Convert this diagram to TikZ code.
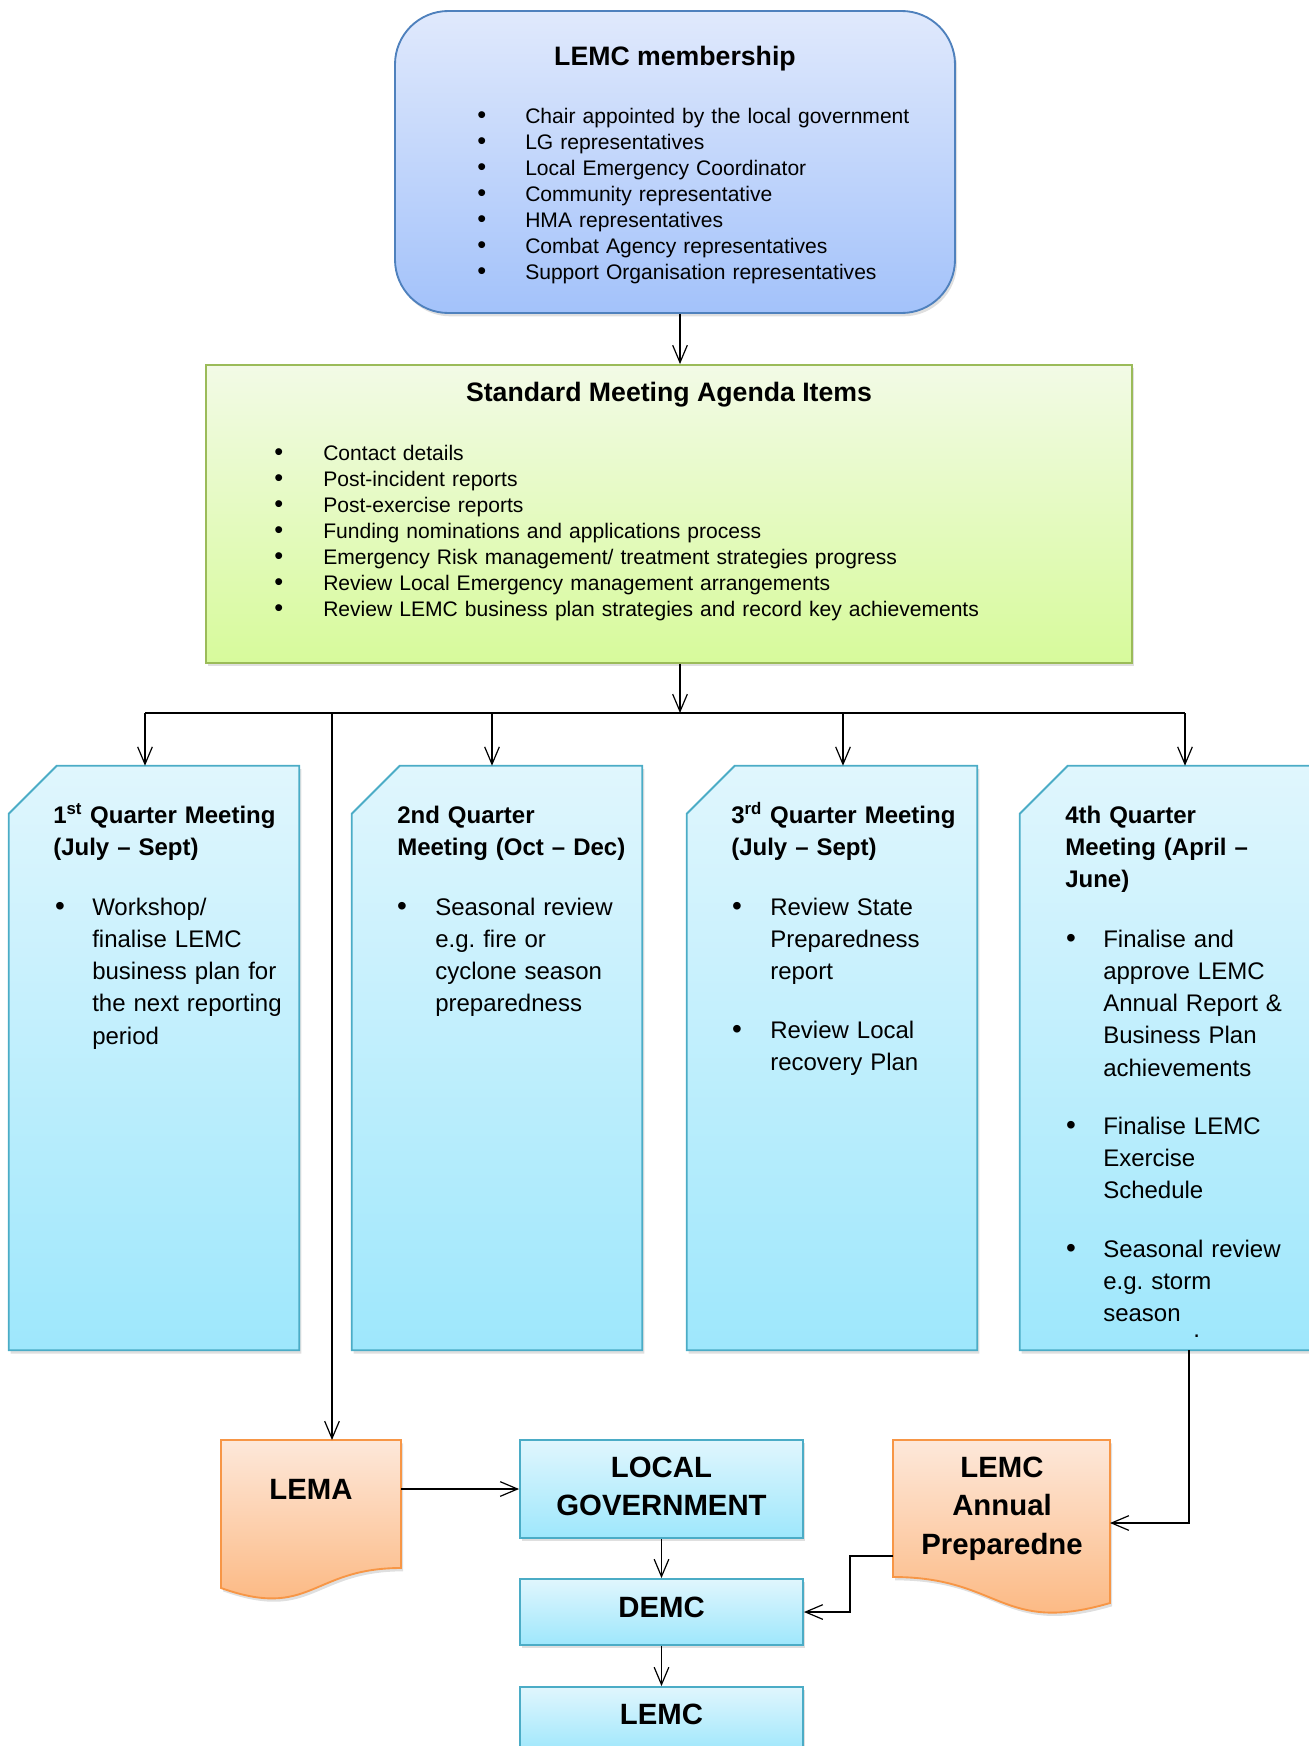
\documentclass[tikz,border=0pt]{standalone}
\usepackage{fontspec}
\setmainfont{Liberation Sans}
\usetikzlibrary{arrows.meta,shadows}

\definecolor{membtop}{RGB}{224,233,252}
\definecolor{membbot}{RGB}{163,194,250}
\definecolor{membline}{RGB}{79,129,189}
\definecolor{agtop}{RGB}{242,250,230}
\definecolor{agbot}{RGB}{215,250,155}
\definecolor{agline}{RGB}{155,187,89}
\definecolor{qtop}{RGB}{224,246,253}
\definecolor{qbot}{RGB}{158,231,252}
\definecolor{qline}{RGB}{75,172,198}
\definecolor{doctop}{RGB}{253,232,218}
\definecolor{docbot}{RGB}{252,180,122}
\definecolor{docline}{RGB}{247,150,70}

\frenchspacing
\begin{document}
\begin{tikzpicture}[x=0.75pt,y=0.75pt,yscale=-1,xscale=1,
  arr/.style={-{Straight Barb[length=13pt,width=11pt]},line width=0.9pt},
  bus/.style={line width=1.6pt},
  boxshadow/.style={drop shadow={opacity=0.25,shadow xshift=1.5pt,shadow yshift=-2.5pt}},
  membbox/.style={rectangle,rounded corners=40pt,draw=membline,line width=1.4pt,top color=membtop,bottom color=membbot,boxshadow,inner sep=0pt,minimum width=420pt,minimum height=226.5pt},
  agbox/.style={rectangle,draw=agline,line width=1.4pt,top color=agtop,bottom color=agbot,boxshadow,inner sep=0pt,minimum width=694.5pt,minimum height=223.5pt},
  qbox/.style={rectangle,inner sep=0pt,minimum width=217.5pt,minimum height=438pt},
  qshape/.style={draw=qline,line width=1.4pt,top color=qtop,bottom color=qbot,boxshadow},
  cybox/.style={rectangle,draw=qline,line width=1.4pt,top color=qtop,bottom color=qbot,boxshadow,inner sep=0pt,minimum width=212.25pt},
  docbox/.style={draw=docline,line width=1.4pt,top color=doctop,bottom color=docbot,boxshadow},
  ttl/.style={anchor=base,inner sep=0pt,font=\bfseries\fontsize{20}{24}\selectfont},
  lst/.style={anchor=base west,inner sep=0pt,text width=560pt,align=left,font=\fontsize{15.8}{19.5}\selectfont},
  lstdots/.style={lst,text width=14pt,font=\fontsize{19}{19.5}\selectfont},
  qttl/.style={anchor=base west,inner sep=0pt,text width=220pt,align=left,font=\bfseries\fontsize{18}{24.2}\selectfont},
  qtxt/.style={anchor=base west,inner sep=0pt,text width=200pt,align=left,font=\fontsize{18}{24.2}\selectfont},
  qdot/.style={anchor=base,inner sep=0pt,font=\fontsize{21}{24.2}\selectfont},
  bigtxt/.style={anchor=base,inner sep=0pt,text width=200pt,align=center,font=\bfseries\fontsize{22}{29.2}\selectfont}]
\useasboundingbox (0,0) rectangle (1309,1746);

%Shape: Rounded Rect [membership]
\node[membbox] (memb) at (675,162) {};
%Shape: Rectangle [agenda]
\node[agbox] (agenda) at (669,514) {};
%Shape: Snip corner [quarters]
\node[qbox] (q1) at (154,1058) {};
\node[qbox] (q2) at (497,1058) {};
\node[qbox] (q3) at (832,1058) {};
\node[qbox] (q4) at (1165,1058) {};
\draw[qshape] (q1.north west) ++(0,48) -- ++(48,-48) -- (q1.north east) -- (q1.south east) -- (q1.south west) -- cycle ;
\draw[qshape] (q2.north west) ++(0,48) -- ++(48,-48) -- (q2.north east) -- (q2.south east) -- (q2.south west) -- cycle ;
\draw[qshape] (q3.north west) ++(0,48) -- ++(48,-48) -- (q3.north east) -- (q3.south east) -- (q3.south west) -- cycle ;
\draw[qshape] (q4.north west) ++(0,48) -- ++(48,-48) -- (q4.north east) -- (q4.south east) -- (q4.south west) -- cycle ;
%Shape: Document [LEMA]
\draw[docbox] (221,1440) -- (401,1440) -- (401,1568) .. controls (311,1568) and (311,1620) .. (221,1588) -- cycle ;
%Shape: Document [annual]
\draw[docbox] (893,1440) -- (1110,1440) -- (1110,1603) .. controls (1001,1635) and (1001,1577) .. (893,1577) -- cycle ;
%Shape: Rectangle [bodies]
\node[cybox,minimum height=73.5pt] (lgov) at (661.5,1489) {};
\node[cybox,minimum height=49.5pt] (demc) at (661.5,1612) {};
\node[cybox,minimum height=49.5pt] (lemc) at (661.5,1720) {};

% connector points
\coordinate (spine) at (680,0);
\coordinate (tap1) at (145,713);
\coordinate (tapL) at (332,713);
\coordinate (tap2) at (492,713);
\coordinate (tap3) at (843,713);
\coordinate (tap4) at (1185,713);
\coordinate (lemaN) at (332,1440);
\coordinate (lemaE) at (401,1489);
\coordinate (apW) at (893,1556);
\coordinate (apE) at (1110,1523);
\coordinate (q4out) at (1189,1350);

\draw[arr] (memb.south -| spine) -- (agenda.north -| spine);
\draw[arr] (agenda.south -| spine) -- (tap1 -| spine);
\draw[bus] (tap1) -- (tap4);
\draw[arr] (tap1) -- (tap1 |- q1.north);
\draw[arr] (tap2) -- (tap2 |- q2.north);
\draw[arr] (tap3) -- (tap3 |- q3.north);
\draw[arr] (tap4) -- (tap4 |- q4.north);
\draw[arr] (tapL) -- (lemaN);
\draw[arr] (lemaE) -- (lgov.west);
\draw[arr] (lgov.south) -- (demc.north);
\draw[arr] (demc.south) -- (lemc.north);
\draw[arr] (apW) -- ++(-43,0) |- (demc.east);
\draw[arr] (q4.south -| q4out) |- (apE);

% Text Node
\node[ttl] (membttl) at (675,65) {LEMC membership};
% Text Node
\node[lstdots] (membdots) at (477,123) {\textbullet\\\textbullet\\\textbullet\\\textbullet\\\textbullet\\\textbullet\\\textbullet};
\node[lst] (membtxt) at (525,123) {Chair appointed by the local government\\LG representatives\\Local Emergency Coordinator\\Community representative\\HMA representatives\\Combat Agency representatives\\Support Organisation representatives};
% Text Node
\node[ttl] (agttl) at (669,401) {Standard Meeting Agenda Items};
% Text Node
\node[lstdots] (agdots) at (274,460) {\textbullet\\\textbullet\\\textbullet\\\textbullet\\\textbullet\\\textbullet\\\textbullet};
\node[lst] (agtxt) at (323,460) {Contact details\\Post-incident reports\\Post-exercise reports\\Funding nominations and applications process\\Emergency Risk management/ treatment strategies progress\\Review Local Emergency management arrangements\\Review LEMC business plan strategies and record key achievements};

% Text Node
\node[qttl] (q1ttl) at (53,823) {1\textsuperscript{st} Quarter Meeting\\(July -- Sept)};
\node[qdot] (q1dot) at (60,915) {\textbullet};
\node[qtxt] (q1txt) at (92,915) {Workshop/\\finalise LEMC\\business plan for\\the next reporting\\period};
% Text Node
\node[qttl] (q2ttl) at (397,823) {2nd Quarter\\Meeting (Oct -- Dec)};
\node[qdot] (q2dot) at (402,915) {\textbullet};
\node[qtxt] (q2txt) at (435,915) {Seasonal review\\e.g. fire or\\cyclone season\\preparedness};
% Text Node
\node[qttl] (q3ttl) at (731,823) {3\textsuperscript{rd} Quarter Meeting\\(July -- Sept)};
\node[qdot] (q3dota) at (737,915) {\textbullet};
\node[qtxt] (q3txta) at (770,915) {Review State\\Preparedness\\report};
\node[qdot] (q3dotb) at (737,1038) {\textbullet};
\node[qtxt] (q3txtb) at (770,1038) {Review Local\\recovery Plan};
% Text Node
\node[qttl] (q4ttl) at (1065,823) {4th Quarter\\Meeting (April --\\June)};
\node[qdot] (q4dota) at (1071,947) {\textbullet};
\node[qtxt] (q4txta) at (1103,947) {Finalise and\\approve LEMC\\Annual Report \&\\Business Plan\\achievements};
\node[qdot] (q4dotb) at (1071,1134) {\textbullet};
\node[qtxt] (q4txtb) at (1103,1134) {Finalise LEMC\\Exercise\\Schedule};
\node[qdot] (q4dotc) at (1071,1257) {\textbullet};
\node[qtxt] (q4txtc) at (1103,1257) {Seasonal review\\e.g. storm\\season};
\node[qtxt] (q4end) at (1193,1337) {.};

% Text Node
\node[bigtxt] (lematxt) at (311,1499) {LEMA};
\node[bigtxt] (lgovtxt) at (661.5,1477) {LOCAL\\GOVERNMENT};
\node[bigtxt] (demctxt) at (661.5,1617) {DEMC};
\node[bigtxt] (lemctxt) at (661.5,1724) {LEMC};
\node[bigtxt] (aptxt) at (1002,1477) {LEMC\\Annual\\Preparedne};

\end{tikzpicture}
\end{document}
